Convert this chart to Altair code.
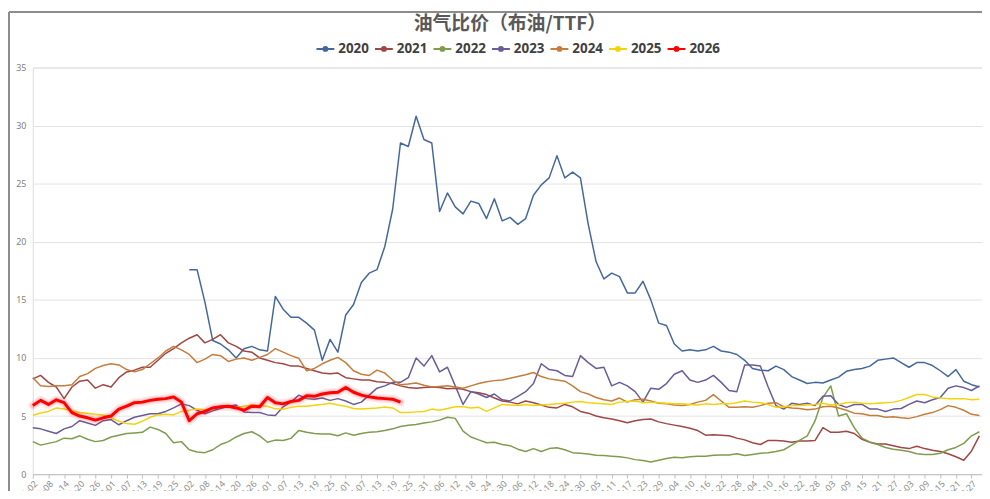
import altair as alt
import pandas as pd

# ---------------- data ----------------
BASE_DATE = "2020-01-02"          # x axis runs over a leap calendar year (MM-DD)
STEP_DAYS = 3                     # samples every 3 days
AXIS_FIRST, AXIS_LAST = "2020-01-02", "2020-12-27"   # tick labels every 6 days
DOMAIN_END = "2020-12-31"

TITLE = "油气比价（布油/TTF）"
years = ["2020", "2021", "2022", "2023", "2024", "2025", "2026"]
colors = ["#46679b", "#9e4745", "#7f9c4e", "#6b5b96", "#c47d3d", "#f2d30c", "#ff0000"]

start_2020 = 20   # 2020 series begins on 03-02
v2020 = [17.6, 17.6, 14.8, 11.5, 11.2, 10.7, 10.0, 10.8, 11.0, 10.7,
         10.6, 15.3, 14.2, 13.5, 13.5, 13.0, 12.4, 9.8, 11.6, 10.5,
         13.7, 14.6, 16.5, 17.3, 17.6, 19.6, 22.8, 28.5, 28.2, 30.8,
         28.8, 28.5, 22.6, 24.2, 23.0, 22.4, 23.5, 23.3, 22.0, 23.7,
         21.8, 22.1, 21.5, 22.0, 24.0, 24.9, 25.5, 27.4, 25.5, 26.0,
         25.5, 21.5, 18.3, 16.8, 17.3, 17.0, 15.6, 15.6, 16.6, 15.0,
         13.0, 12.8, 11.2, 10.6, 10.7, 10.6, 10.7, 11.0, 10.6, 10.5,
         10.3, 9.8, 9.1, 8.95, 8.9, 9.3, 9.0, 8.4, 8.1, 7.8,
         7.9, 7.85, 8.1, 8.35, 8.85, 9.0, 9.1, 9.3, 9.8, 9.9,
         10.0, 9.6, 9.2, 9.6, 9.6, 9.35, 8.9, 8.4, 9.0, 8.0,
         7.7, 7.5]
v2021 = [8.2, 8.5, 7.9, 7.5, 6.5, 7.5, 8.0, 8.1, 7.4, 7.7,
         7.5, 8.3, 8.8, 8.95, 9.2, 9.2, 9.8, 10.4, 10.8, 11.3,
         11.7, 12.0, 11.3, 11.6, 12.0, 11.3, 11.0, 10.6, 10.5, 10.0,
         9.8, 9.6, 9.5, 9.3, 9.3, 9.1, 8.9, 8.7, 8.65, 8.7,
         8.3, 8.2, 8.1, 8.1, 7.95, 7.9, 7.8, 7.6, 7.45, 7.4,
         7.45, 7.5, 7.45, 7.35, 7.4, 7.3, 7.1, 7.0, 6.85, 6.55,
         6.3, 6.2, 6.05, 6.3, 6.15, 5.95, 5.75, 5.7, 6.0, 5.8,
         5.4, 5.25, 5.0, 4.85, 4.75, 4.6, 4.42, 4.6, 4.7, 4.75,
         4.5, 4.35, 4.22, 4.1, 3.95, 3.75, 3.35, 3.4, 3.35, 3.3,
         3.1, 2.95, 2.7, 2.55, 2.9, 2.9, 2.85, 2.75, 2.85, 2.85,
         2.9, 4.0, 3.6, 3.6, 3.7, 3.5, 3.0, 2.75, 2.6, 2.6,
         2.45, 2.3, 2.2, 2.4, 2.2, 2.05, 1.95, 1.75, 1.5, 1.2,
         2.0, 3.3]
v2022 = [2.8, 2.5, 2.65, 2.8, 3.1, 3.05, 3.3, 3.0, 2.8, 2.9,
         3.2, 3.35, 3.5, 3.55, 3.6, 4.05, 3.85, 3.5, 2.7, 2.8,
         2.1, 1.9, 1.85, 2.1, 2.55, 2.8, 3.2, 3.5, 3.65, 3.3,
         2.75, 2.93, 2.9, 3.08, 3.75, 3.6, 3.5, 3.45, 3.45, 3.3,
         3.55, 3.35, 3.5, 3.6, 3.65, 3.75, 3.9, 4.1, 4.2, 4.27,
         4.4, 4.5, 4.65, 4.9, 4.8, 3.7, 3.2, 2.95, 2.7, 2.75,
         2.55, 2.45, 2.15, 1.95, 2.2, 1.95, 2.2, 2.28, 2.1, 1.85,
         1.8, 1.74, 1.62, 1.6, 1.55, 1.5, 1.4, 1.25, 1.17, 1.05,
         1.2, 1.35, 1.45, 1.42, 1.5, 1.55, 1.55, 1.62, 1.65, 1.65,
         1.75, 1.6, 1.7, 1.8, 1.85, 1.95, 2.1, 2.5, 2.9, 3.3,
         4.6, 6.6, 7.6, 5.0, 5.2, 4.0, 3.1, 2.75, 2.55, 2.3,
         2.15, 2.05, 1.95, 1.75, 1.7, 1.7, 1.8, 2.1, 2.3, 2.65,
         3.3, 3.65]
v2023 = [4.0, 3.9, 3.7, 3.5, 3.9, 4.1, 4.6, 4.4, 4.2, 4.6,
         4.7, 4.25, 4.6, 4.9, 5.05, 5.2, 5.2, 5.4, 5.7, 6.05,
         5.9, 5.5, 5.2, 5.45, 5.65, 5.85, 5.95, 5.35, 5.3, 5.3,
         5.1, 5.05, 5.8, 6.2, 6.8, 6.5, 6.45, 6.55, 6.35, 6.5,
         6.3, 6.0, 6.2, 6.8, 7.4, 7.6, 7.9, 7.9, 8.3, 10.0,
         9.3, 10.2, 8.8, 9.2, 7.6, 6.0, 7.1, 6.9, 6.6, 6.9,
         6.4, 6.3, 6.7, 7.1, 7.8, 9.5, 9.0, 8.9, 8.5, 8.4,
         10.2, 9.6, 9.1, 9.2, 7.6, 7.9, 7.6, 7.1, 6.2, 7.4,
         7.3, 7.8, 8.6, 8.9, 8.1, 7.9, 8.1, 8.5, 7.9, 7.2,
         7.1, 9.4, 9.4, 9.3, 7.5, 5.9, 5.6, 6.1, 6.0, 6.1,
         5.9, 6.7, 6.75, 6.0, 5.75, 6.0, 6.0, 5.6, 5.6, 5.4,
         5.6, 5.65, 6.0, 6.3, 6.15, 6.4, 6.6, 7.4, 7.6, 7.45,
         7.2, 7.6]
v2024 = [8.3, 7.6, 7.55, 7.6, 7.6, 7.7, 8.4, 8.65, 9.1, 9.35,
         9.5, 9.4, 9.0, 8.8, 9.0, 9.5, 10.0, 10.6, 11.0, 10.7,
         10.3, 9.6, 9.9, 10.3, 10.2, 9.7, 9.9, 10.0, 9.8, 10.05,
         10.3, 10.8, 10.5, 10.2, 9.97, 8.9, 9.1, 9.5, 9.8, 10.05,
         9.6, 8.9, 8.6, 8.5, 8.95, 8.7, 8.1, 7.7, 7.75, 7.85,
         7.65, 7.5, 7.55, 7.6, 7.5, 7.4, 7.6, 7.8, 7.95, 8.05,
         8.1, 8.25, 8.4, 8.55, 8.75, 8.4, 8.2, 8.1, 8.0, 7.6,
         7.1, 6.9, 6.6, 6.4, 6.3, 6.55, 6.2, 6.4, 6.45, 6.3,
         6.1, 6.05, 5.95, 5.9, 6.0, 6.2, 6.35, 6.85, 6.3, 5.75,
         5.75, 5.8, 5.75, 5.9, 6.1, 6.15, 5.8, 5.7, 5.65, 5.55,
         5.6, 5.8, 5.85, 5.7, 5.5, 5.25, 5.2, 5.05, 5.05, 4.9,
         4.95, 4.85, 4.8, 4.95, 5.15, 5.3, 5.55, 5.9, 5.75, 5.5,
         5.15, 5.05]
v2025 = [5.07, 5.27, 5.4, 5.7, 5.6, 5.45, 5.3, 5.25, 5.15, 5.1,
         4.85, 4.55, 4.35, 4.3, 4.55, 4.9, 5.1, 5.15, 5.1, 5.4,
         5.5, 5.6, 5.55, 5.65, 5.75, 5.8, 5.75, 5.85, 5.95, 5.9,
         5.85, 5.62, 5.58, 5.75, 5.85, 5.85, 5.93, 6.0, 6.1, 5.95,
         5.85, 5.65, 5.6, 5.65, 5.7, 5.78, 5.7, 5.3, 5.3, 5.36,
         5.4, 5.6, 5.5, 5.65, 5.8, 5.8, 5.7, 5.75, 5.4, 5.7,
         6.0, 5.95, 5.9, 6.0, 5.9, 5.95, 6.0, 6.05, 6.1, 6.2,
         6.25, 6.15, 6.1, 6.05, 6.0, 6.2, 6.25, 6.3, 6.15, 6.2,
         6.15, 6.1, 6.05, 6.05, 6.0, 5.95, 6.05, 6.0, 6.05, 6.05,
         6.15, 6.3, 6.2, 6.15, 6.0, 5.75, 5.8, 5.9, 5.9, 5.95,
         6.0, 6.1, 5.95, 6.0, 6.15, 6.2, 6.1, 6.05, 6.1, 6.15,
         6.2, 6.35, 6.6, 6.85, 6.85, 6.65, 6.55, 6.5, 6.5, 6.5,
         6.4, 6.45]
v2026 = [5.9, 6.35, 6.0, 6.4, 6.15, 5.3, 5.0, 4.85, 4.65, 4.85,
         5.0, 5.6, 5.85, 6.15, 6.2, 6.35, 6.45, 6.5, 6.65, 6.2,
         4.6, 5.2, 5.4, 5.7, 5.8, 5.85, 5.7, 5.5, 5.85, 5.8,
         6.6, 6.15, 6.05, 6.25, 6.35, 6.75, 6.7, 6.9, 7.0, 7.05,
         7.45, 7.05, 6.8, 6.65, 6.55, 6.5, 6.45, 6.2]

series_values = [v2020, v2021, v2022, v2023, v2024, v2025, v2026]
series_start = [start_2020, 0, 0, 0, 0, 0, 0]

y_ticks = [0, 5, 10, 15, 20, 25, 30, 35]

# ---------------- build table ----------------
base = pd.Timestamp(BASE_DATE)
rows = []
for yr, start, vals in zip(years, series_start, series_values):
    for k, v in enumerate(vals):
        d = base + pd.Timedelta(days=STEP_DAYS * (start + k))
        rows.append({"date": int(d.value // 10**6), "year": yr, "value": v})
df = pd.DataFrame(rows)


def ms(s):
    return int(pd.Timestamp(s).value // 10**6)


tick_values = [int(t.value // 10**6) for t in pd.date_range(AXIS_FIRST, AXIS_LAST, freq="6D")]

W, H = 957, 410
LABEL_FONT = "Noto Sans"
x_enc = alt.X(
    "date:T",
    scale=alt.Scale(type="utc", domain=[ms(BASE_DATE), ms(DOMAIN_END)]),
    axis=alt.Axis(values=tick_values, labelExpr="utcFormat(datum.value, '%m-%d')",
                  labelAngle=-45,
                  labelFontSize=9, labelColor="#8c8c8c", labelFont=LABEL_FONT,
                  tickColor="#bfbfbf", tickSize=4, domainColor="#bfbfbf",
                  grid=False, title=None, labelOverlap=False, labelPadding=1,
                  labelFlush=False),
)
y_enc = alt.Y(
    "value:Q",
    scale=alt.Scale(domain=[0, 35], nice=False),
    axis=alt.Axis(values=y_ticks, grid=True, gridColor="#e3e3e3", domain=False, ticks=False,
                  labelFontSize=9, labelColor="#7f7f7f", labelFont=LABEL_FONT,
                  labelPadding=7, title=None),
)

legend_symbol = "M-1,0L1,0M-0.22,0A0.22,0.22,0,1,1,0.22,0A0.22,0.22,0,1,1,-0.22,0Z"
color_enc = alt.Color(
    "year:N",
    scale=alt.Scale(domain=years, range=colors),
    legend=alt.Legend(orient="none", direction="horizontal", title=None,
                      legendX=285, legendY=-29, columns=7,
                      symbolType=legend_symbol, symbolSize=324, symbolStrokeWidth=2,
                      labelFontSize=13.5, labelFontWeight="bold", labelColor="#404040",
                      labelFont=LABEL_FONT, labelOffset=3, columnPadding=2),
)

others = alt.Chart(df).transform_filter(alt.datum.year != "2026").mark_line(
    strokeWidth=1.5, strokeJoin="round").encode(x=x_enc, y=y_enc, color=color_enc, detail="year:N")

red = df[df.year == "2026"]
glow1 = alt.Chart(red).mark_line(strokeWidth=9, opacity=0.09, color="#ff0000",
                                 strokeJoin="round", strokeCap="round").encode(x=x_enc, y=y_enc)
glow2 = alt.Chart(red).mark_line(strokeWidth=5.5, opacity=0.15, color="#ff0000",
                                 strokeJoin="round", strokeCap="round").encode(x=x_enc, y=y_enc)
red_line = alt.Chart(red).mark_line(strokeWidth=3, strokeJoin="round").encode(
    x=x_enc, y=y_enc, color=color_enc)

one = pd.DataFrame({"t": [TITLE]})
title_mark = alt.Chart(one).mark_text(fontSize=19, fontWeight="bold", color="#595959",
                                      font="Noto Sans CJK SC", align="center",
                                      baseline="middle").encode(
    text="t:N", x=alt.value(481), y=alt.value(-44))

frame_top = alt.Chart(one).mark_rule(color="#8c8c8c", strokeWidth=2).encode(
    x=alt.value(-24), x2=alt.value(W), y=alt.value(-56))
frame_left = alt.Chart(one).mark_rule(color="#8c8c8c", strokeWidth=2).encode(
    x=alt.value(-24), y=alt.value(-56), y2=alt.value(440))

chart = alt.layer(frame_top, frame_left, title_mark, others, glow1, glow2, red_line).properties(
    width=W, height=H,
    autosize=alt.AutoSizeParams(type="none"),
    padding={"left": 25, "top": 58, "right": 0, "bottom": 15},
).configure_view(stroke=None).configure(background="white")

chart.save("out.html", embed_options={"renderer": "svg", "actions": False})
